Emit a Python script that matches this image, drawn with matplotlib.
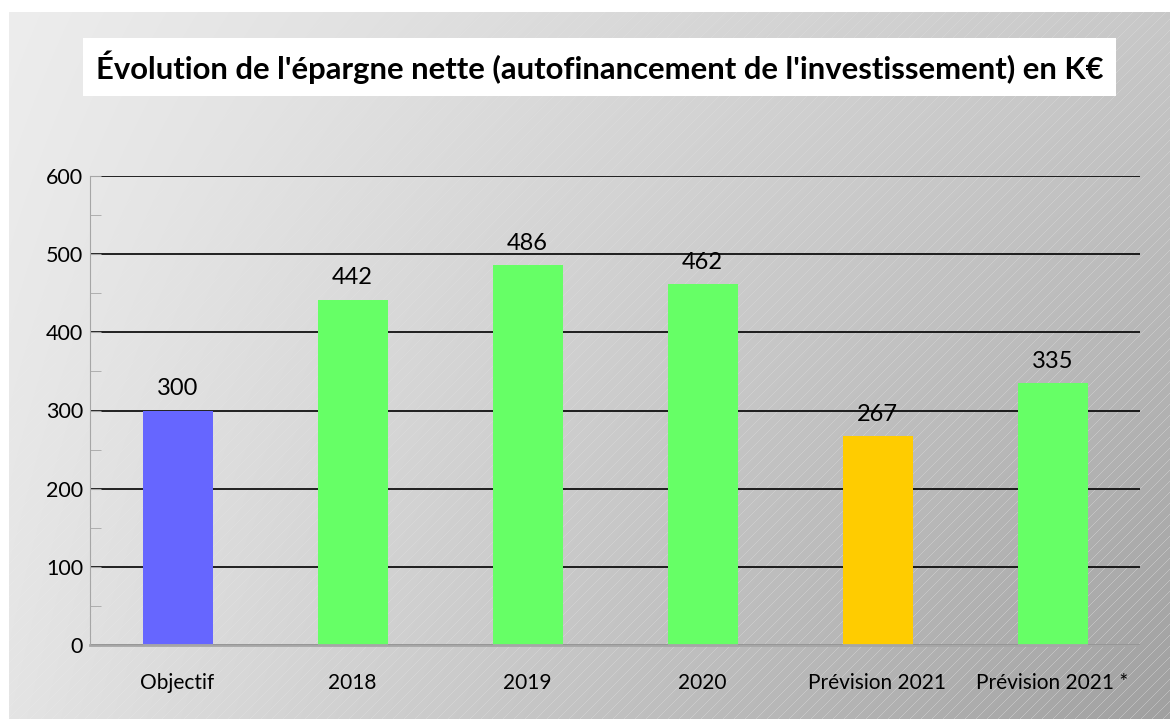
import matplotlib
matplotlib.use('Agg')
import matplotlib.pyplot as plt
import numpy as np

# Données
categories = ['Objectif', '2018', '2019', '2020', 'Prévision 2021', 'Prévision 2021 *']
values = [300, 442, 486, 462, 267, 335]
colors = ['#6666ff', '#66ff66', '#66ff66', '#66ff66', '#ffcc00', '#66ff66']

plt.rcParams['font.family'] = ['Lato', 'DejaVu Sans']

W, H = 1170, 719
fig = plt.figure(figsize=(W / 100, H / 100), dpi=100)
fig.patch.set_facecolor('white')

# Fond dégradé avec hachures
bg = fig.add_axes([0, 0, 1, 1])
bg.set_xlim(0, W)
bg.set_ylim(H, 0)
bg.axis('off')
x0, y0 = 9, 12
xx, yy = np.meshgrid(np.arange(x0, W), np.arange(y0, H))
u = (xx - x0) / (W - x0)
v = (yy - y0) / (H - y0)
g = 237 - 37 * u - 9 * v - 31 * u * v
img = np.dstack([g, g, g]) / 255.0
stripe = ((xx + yy) % 11) < 1.0
strength = np.clip((u * 0.8 + v * 0.5) - 0.2, 0, 1) * 0.28
a = np.where(stripe, strength, 0)[..., None]
img = img * (1 - a) + a
bg.imshow(img, extent=[x0, W, H, y0], aspect='auto', interpolation='nearest')

# Titre
fig.text(0.5 * (90 + 1109) / W, 1 - 67 / H,
         "Évolution de l'épargne nette (autofinancement de l'investissement) en K€",
         ha='center', va='center', fontsize=22.3, fontweight='bold',
         bbox=dict(facecolor='white', edgecolor='none', pad=9))

ax = fig.add_axes([90 / W, 1 - 645 / H, 1050 / W, 469 / H])
ax.patch.set_alpha(0)
x = np.arange(len(categories))
bars = ax.bar(x, values, width=0.4, color=colors, zorder=3)
ax.set_xlim(-0.5, len(categories) - 0.5)
ax.set_ylim(0, 600)
ax.set_yticks(range(0, 601, 100))
ax.set_yticks(range(50, 600, 100), minor=True)
ax.yaxis.grid(True, color='black', linewidth=1.2, zorder=1)
ax.tick_params(axis='y', which='both', direction='in', length=8, color='#a6a6a6',
               labelsize=15.5, pad=5)
ax.tick_params(axis='x', length=0, labelsize=15, pad=20)
ax.set_xticks(x)
ax.set_xticklabels(categories)
for s in ['top', 'right']:
    ax.spines[s].set_visible(False)
ax.spines['left'].set_color('#a6a6a6')
ax.spines['bottom'].set_color('#a6a6a6')
ax.spines['bottom'].set_linewidth(2)
ax.spines['bottom'].set_zorder(4)

for xi, val in zip(x, values):
    ax.annotate(str(val), (xi, val), xytext=(0, 8), textcoords='offset points',
                ha='center', va='bottom', fontsize=17)

fig.savefig('out.png', dpi=100)
